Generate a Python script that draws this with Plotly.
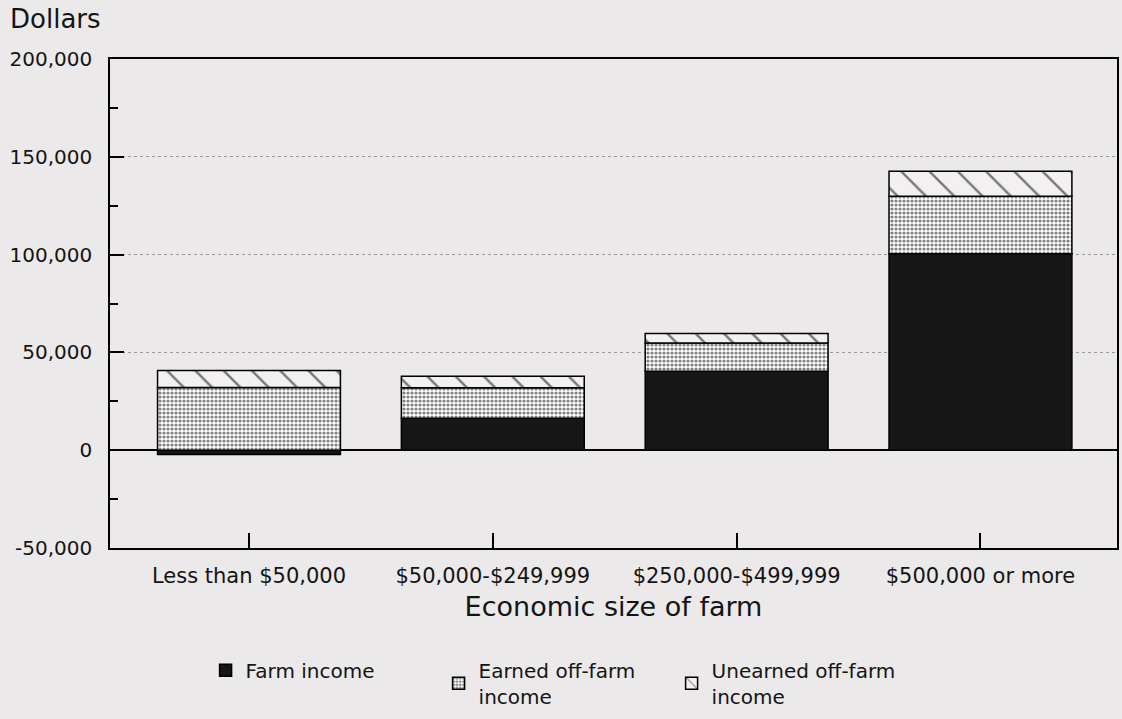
import plotly.graph_objects as go

categories = ["Less than $50,000", "$50,000-$249,999", "$250,000-$499,999", "$500,000 or more"]
farm_income = [-2200, 16300, 40300, 100400]
earned_off_farm = [32000, 15600, 14500, 29400]
unearned_off_farm = [8800, 5900, 4900, 12800]

y_tickvals = [-50000, 0, 50000, 100000, 150000, 200000]
y_ticktext = ["-50,000", "0", "50,000", "100,000", "150,000", "200,000"]

BG = "#ebe9e9"
FONT = "DejaVu Sans"
TXT = "#141414"

fig = go.Figure()
fig.add_trace(go.Bar(
    x=categories, y=farm_income, name="Farm income",
    marker=dict(color="#161616", line=dict(color="black", width=1.5)),
))
fig.add_trace(go.Bar(
    x=categories, y=earned_off_farm, name="Earned off-farm<br>income",
    marker=dict(color="white", line=dict(color="black", width=1.5),
                pattern=dict(shape=".", size=4, solidity=0.5,
                             fgcolor="black", bgcolor="white", fillmode="overlay")),
))
fig.add_trace(go.Bar(
    x=categories, y=unearned_off_farm, name="Unearned off-farm<br>income",
    marker=dict(color="#f2f0f0", line=dict(color="black", width=1.5),
                pattern=dict(shape="\\", size=20, solidity=0.12,
                             fgcolor="black", bgcolor="#f2f0f0", fillmode="overlay")),
))

fig.update_layout(
    width=1122, height=719,
    barmode="relative", bargap=0.25,
    paper_bgcolor=BG, plot_bgcolor=BG,
    font=dict(family=FONT, size=20, color=TXT),
    margin=dict(l=110, r=3, t=59, b=167),
    showlegend=True,
    legend=dict(orientation="h", x=0.442, xanchor="center", y=-0.21, yanchor="top",
                font=dict(size=20, family=FONT, color=TXT), bgcolor="rgba(0,0,0,0)",
                entrywidth=188, traceorder="normal"),
    xaxis=dict(
        range=[-0.57, 3.56], showline=True, mirror=True, linecolor="black", linewidth=1.5,
        ticks="inside", ticklen=15, tickwidth=1.5, tickcolor="black",
        tickfont=dict(size=21, family=FONT, color=TXT), ticklabelstandoff=8,
        title=dict(text="Economic size of farm", font=dict(size=27, family=FONT, color=TXT), standoff=10),
        showgrid=False, zeroline=False,
    ),
    yaxis=dict(
        range=[-50000, 200000], showline=True, mirror=True, linecolor="black", linewidth=1.5,
        tickvals=y_tickvals, ticktext=y_ticktext,
        ticks="inside", ticklen=14, tickwidth=1.5, tickcolor="black",
        tickfont=dict(size=20, family=FONT, color=TXT), ticklabelstandoff=12,
        minor=dict(dtick=25000, ticks="inside", ticklen=8, tickwidth=1.5, tickcolor="black", showgrid=False),
        showgrid=True, gridcolor="#9a9a9a", griddash="dot", gridwidth=1,
        zeroline=True, zerolinecolor="black", zerolinewidth=1.5,
    ),
    annotations=[dict(text="Dollars", xref="paper", yref="paper", x=-0.101, y=1.082,
                      xanchor="left", yanchor="middle", showarrow=False,
                      font=dict(size=26, family=FONT, color=TXT))],
)

fig.write_html(
    "out.html",
    config={"displayModeBar": False},
    post_script="document.body.style.margin='0';document.body.style.background='%s';" % BG,
)
